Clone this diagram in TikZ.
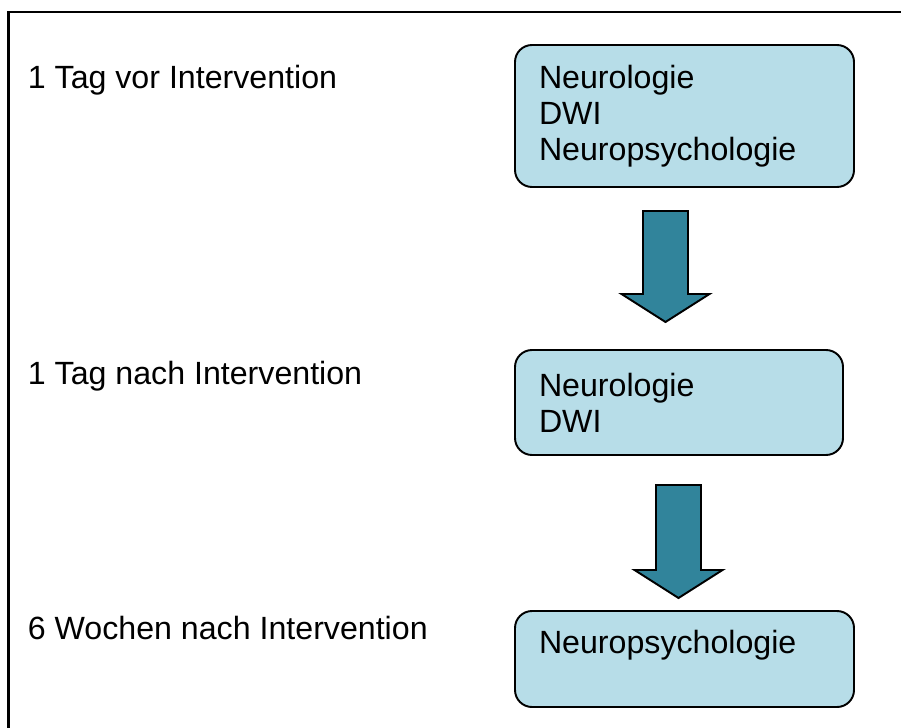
\documentclass[tikz,border=0pt]{standalone}
\usepackage{fontspec}
\setmainfont{Liberation Sans}
\usetikzlibrary{positioning}
\definecolor{boxblue}{RGB}{183,221,232}
\definecolor{arrowteal}{RGB}{49,132,155}
\tikzset{
  exam/.style={draw, line width=1.1pt, fill=boxblue, rounded corners=0.34cm, align=left, inner xsep=0.48cm, inner ysep=0pt},
  phase/.style={anchor=base west, inner sep=0pt},
  blockarrow/.style={draw, line width=1.1pt, fill=arrowteal, line join=miter},
  frame/.style={draw, line width=1.3pt},
}
\begin{document}
\begin{tikzpicture}[font=\fontsize{18.3pt}{20.6pt}\selectfont]
    \clip (0,0) rectangle (18.02,14.54);
    \draw[frame] (0.17,-1.00) rectangle (19.00,14.30);
    % time points
    \node[phase] (t1) at (0.55,12.76) {1 Tag vor Intervention};
    \node[phase] (t2) at (0.55,6.86) {1 Tag nach Intervention};
    \node[phase] (t3) at (0.55,1.76) {6 Wochen nach Intervention};
    % examinations
    \node[exam, text width=5.82cm, minimum height=2.84cm] (e1) at (13.69,12.22) {Neurologie\\DWI\\Neuropsychologie};
    \node[exam, text width=5.60cm, minimum height=2.10cm] (e2) at (13.58,6.49) {Neurologie\\DWI};
    \node[exam, text width=5.82cm, minimum height=1.92cm, text depth=0.68cm] (e3) at (13.69,1.36) {Neuropsychologie};
    % arrows
    \coordinate (a1) at (12.86,10.32);
    \coordinate (a2) at (13.12,4.84);
    \draw[blockarrow] (a1) -- ++(0.90,0) -- ++(0,-1.66) -- ++(0.43,0) -- ++(-0.88,-0.56) -- ++(-0.88,0.56) -- ++(0.43,0) -- cycle;
    \draw[blockarrow] (a2) -- ++(0.90,0) -- ++(0,-1.70) -- ++(0.43,0) -- ++(-0.88,-0.56) -- ++(-0.88,0.56) -- ++(0.43,0) -- cycle;
  \end{tikzpicture}
\end{document}
